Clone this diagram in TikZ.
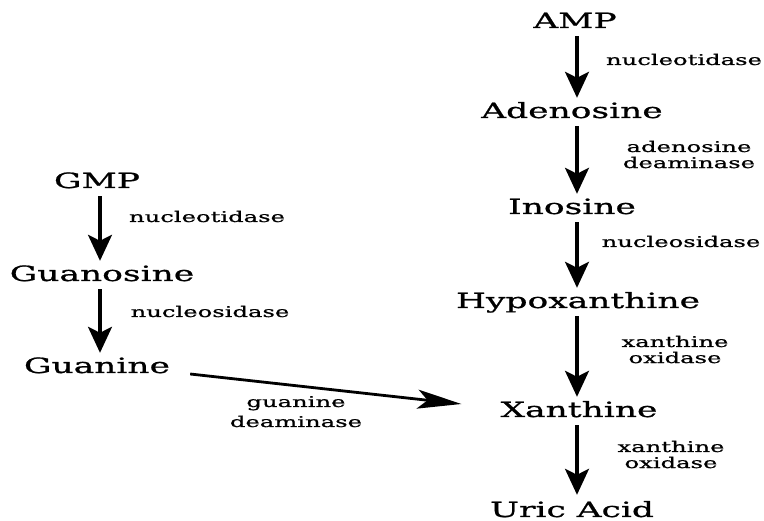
\documentclass[tikz,border=0pt]{standalone}
\usepackage{fontspec}
\usetikzlibrary{arrows.meta,calc}
\newfontfamily\dvs[FakeStretch=1.64,FakeBold=0.9]{DejaVu Serif}
\newcommand{\twol}[2]{\begin{tabular}[t]{@{}c@{}}#1\\#2\end{tabular}}
\tikzset{
  met/.style={font=\dvs\fontsize{21}{25}\selectfont, anchor=base, text height=17pt, text depth=5pt, inner ysep=3pt, inner xsep=2pt},
  enz/.style={font=\dvs\fontsize{14.8}{16}\selectfont, anchor=base, inner sep=0pt},
  arr/.style={line width=3.2pt, -{Stealth[length=26pt,width=24pt,inset=6pt]}},
  darr/.style={line width=2.8pt, -{Stealth[length=44pt,width=19pt,inset=10pt]}}
}
\begin{document}
\begin{tikzpicture}[x=1pt,y=-1pt]
\useasboundingbox (0,0) rectangle (764,521);
\coordinate (rc) at (577,0);
\coordinate (lc) at (100,0);
% right column
\node[met] (amp) at (575,28) {AMP};
\node[met] (ade) at (572,118) {Adenosine};
\node[met] (ino) at (572,214) {Inosine};
\node[met] (hyp) at (578,308) {Hypoxanthine};
\node[met] (xan) at (579,417) {Xanthine};
\node[met] (uric) at (572,517) {Uric Acid};
% left column
\node[met] (gmp) at (97,188) {GMP};
\node[met] (guo) at (102,281) {Guanosine};
\node[met] (gua) at (97,373) {Guanine};
% arrows
\draw[arr] (amp.south -| rc) -- (ade.north -| rc);
\draw[arr] (ade.south -| rc) -- (ino.north -| rc);
\draw[arr] (ino.south -| rc) -- (hyp.north -| rc);
\draw[arr] (hyp.south -| rc) -- (xan.north -| rc);
\draw[arr] (xan.south -| rc) -- ([yshift=2pt]uric.north -| rc);
\draw[arr] (gmp.south -| lc) -- (guo.north -| lc);
\draw[arr] (guo.south -| lc) -- (gua.north -| lc);
\draw[darr] ($(gua.east)+(18,7)$) -- ($(xan.west)+(-37,-7)$);
% enzyme labels
\node[enz] (e1) at (684,65) {nucleotidase};
\node[enz] (e2) at (689,152) {\twol{adenosine}{deaminase}};
\node[enz] (e3) at (681,247) {nucleosidase};
\node[enz] (e4) at (675,347) {\twol{xanthine}{oxidase}};
\node[enz] (e5) at (671,452) {\twol{xanthine}{oxidase}};
\node[enz] (e6) at (207,222) {nucleotidase};
\node[enz] (e7) at (210,317) {nucleosidase};
\node[enz, font=\dvs\fontsize{14.8}{20}\selectfont] (e8) at (296,407) {\twol{guanine}{deaminase}};
\end{tikzpicture}
\end{document}
